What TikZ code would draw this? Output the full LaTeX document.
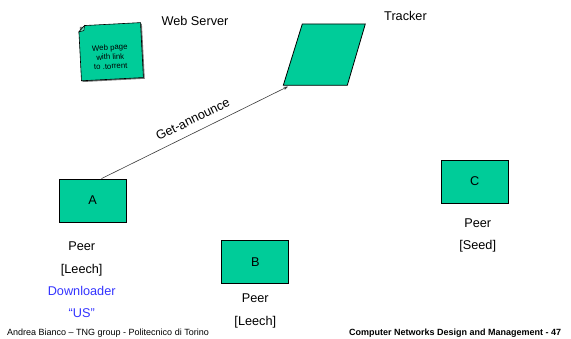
\documentclass[tikz,border=0pt]{standalone}
\usepackage{fontspec}
\setmainfont{Liberation Sans}
\usetikzlibrary{arrows.meta,calc}
\definecolor{peergreen}{RGB}{0,204,153}
\definecolor{foldgreen}{RGB}{120,225,195}
\definecolor{rolecolor}{RGB}{51,51,255}
\definecolor{linkgray}{RGB}{60,60,60}
\newcommand\labelfont{\fontsize{12.7}{15}\selectfont}
\newcommand\notefont{\fontsize{7.8}{9.3}\selectfont}
\newcommand\footfont{\fontsize{9}{11}\selectfont}
\begin{document}
\begin{tikzpicture}[x=1pt,y=-1pt,
  peerbox/.style={draw=black,fill=peergreen,line width=0.8pt,
    minimum width=67pt,minimum height=43pt,inner sep=0pt,font=\labelfont},
  lbl/.style={anchor=base,inner sep=0pt,font=\labelfont},
  rolelbl/.style={lbl,text=rolecolor},
  footlbl/.style={anchor=base west,inner sep=0pt,font=\footfont},
  announce/.style={draw=linkgray,line width=0.6pt,
    -{Stealth[length=4.5pt,width=3.2pt]}}
]
\useasboundingbox (0,0) rectangle (571,339);

% web page note with folded corner, slightly tilted
\begin{scope}[shift={(111,51.7)},rotate=3]
  \fill[black!55] (-29.8,-26.3) rectangle (32.3,28.8);
  \draw[fill=peergreen,line width=0.6pt]
    (-25,-27.5) -- (31,-27.5) -- (31,27.5) -- (-31,27.5) -- (-31,-21.5) -- cycle;
  \draw[fill=foldgreen,line width=0.5pt]
    (-31,-21.5) -- (-25,-27.5) -- (-26,-22.5) -- cycle;
  \node[font=\notefont,align=center,inner sep=0pt,transform shape]
    (webpage) at (-1,5) {Web page\\with link\\to .torrent};
\end{scope}
\node[lbl] (websrv) at (195,26) {Web Server};

% tracker
\draw[fill=peergreen,line width=0.8pt]
  (302.3,24) -- (365.3,24) -- (347.3,85.3) -- (283.3,85.3) -- cycle;
\coordinate (trackerin) at (288,86.5);
\node[lbl] (trackerlbl) at (405.5,20.7) {Tracker};

% peers
\node[peerbox] (A) at (92.5,200.5) {A};
\node[peerbox] (B) at (255.3,261.7) {B};
\node[peerbox] (C) at (474.7,181.5) {C};

\node[lbl] (Apeer) at (81.7,250.7) {Peer};
\node[lbl] (Arole) at (81.7,273.5) {[Leech]};
\node[rolelbl] (Adown) at (81.7,295.5) {Downloader};
\node[rolelbl] (Aus) at (81.7,318) {“US”};

\node[lbl] (Bpeer) at (255.3,302.7) {Peer};
\node[lbl] (Brole) at (255.3,325.3) {[Leech]};

\node[lbl] (Cpeer) at (477.7,227.3) {Peer};
\node[lbl] (Crole) at (477.7,250) {[Seed]};

% announce request from A to the tracker
\draw[announce] ([xshift=9pt]A.north) --
  node[sloped,above=8pt,pos=0.52,inner sep=0pt,font=\labelfont] (getann) {Get-announce}
  (trackerin);

% footer
\node[footlbl] (footL) at (7,335.5) {Andrea Bianco – TNG group - Politecnico di Torino};
\node[footlbl,font=\footfont\bfseries] (footR) at (349,335.5)
  {Computer Networks Design and Management - 47};
\end{tikzpicture}
\end{document}
